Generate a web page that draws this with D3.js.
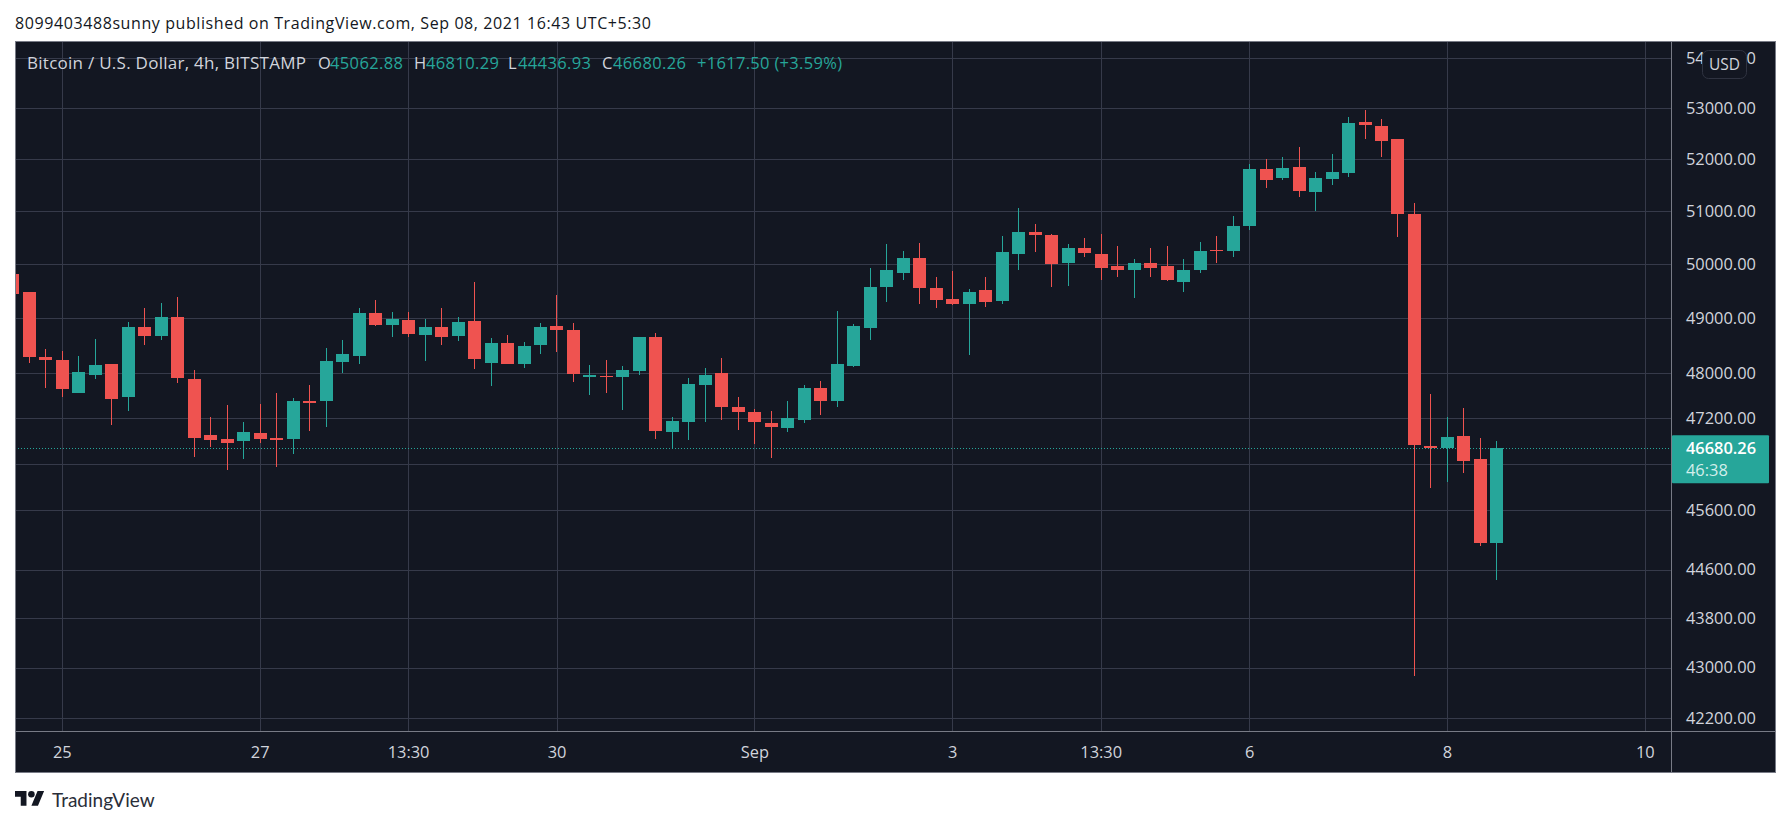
<!DOCTYPE html>
<html>
<head>
<meta charset="utf-8">
<title>BTCUSD</title>
<script src="https://cdn.jsdelivr.net/npm/d3@7/dist/d3.min.js"></script>
<style>
  body { margin: 0; background: #fff; }
  text { font-family: "Open Sans", sans-serif; }
  .axis path { display: none; }
  .axis line { stroke: #363a4a; shape-rendering: crispEdges; }
  .axis text { fill: #d1d4dc; font-size: 16.4px; }
</style>
</head>
<body>
<div id="chart"></div>
<script>
// 4h candles, first one is cut off by the left edge of the pane
const opens = [49820,49487,48299,48245,47654,47973,48172,47583,48842,48679,49024,47902,46911,46842,46807,46946,46859,46842,47512,47512,48208,48317,49098,48879,48969,48698,48842,48679,48951,48190,48552,48172,48516,48861,48788,47938,47956,47938,48045,48661,46963,47140,47796,48009,47406,47317,47122,47034,47175,47743,47512,48136,48824,49580,49839,50118,49561,49357,49265,49524,49320,50194,50610,50553,50024,50308,50194,49969,49894,50024,49969,49672,49894,50270,50251,50723,51814,51641,51853,51371,51622,51737,52731,52653,52398,50949,46720,46685,46894,46494,45062.88];
const highs = [49820,49487,48444,48408,48317,48625,48172,48933,49191,49283,49394,48063,47228,47441,47140,47459,47654,47565,47796,48462,48607,49191,49339,49117,49117,48987,49191,49024,49672,48643,48698,48570,48915,49431,48915,48154,48245,48136,48661,48734,47228,47920,48099,48281,47583,47370,47335,47512,47796,47867,49135,48897,49931,50383,50251,50402,49765,49876,49543,49765,50534,51062,50760,50572,50383,50496,50572,50345,50098,50308,50345,50098,50421,50534,50911,51910,52006,52045,52241,51756,52104,52829,52967,52790,52398,51160,47636,47228,47388,46859,46810.29];
const lows = [49450,48190,47743,47583,47654,47902,47087,47335,48516,48607,47831,46529,46703,46303,46494,46772,46355,46581,46981,47051,48009,48172,48861,48661,48661,48226,48516,48589,48081,47778,48172,48099,48353,48390,47849,47618,47654,47352,47973,46842,46668,46824,47140,47175,46998,46755,46511,46963,47122,47264,47406,48118,48607,49302,49709,49265,49191,49246,48335,49209,49265,49894,50232,49580,49598,50137,49709,49765,49376,49765,49691,49487,49839,50024,50137,50647,51448,51602,51275,51006,51506,51660,52398,52045,50515,42880,45990,46094,46251,45003,44436.93];
const closes = [49450,48299,48245,47725,48027,48154,47547,48842,48679,49024,47920,46859,46824,46772,46963,46842,46824,47512,47477,48226,48353,49098,48879,48987,48716,48842,48661,48933,48263,48552,48172,48498,48842,48788,47991,47973,47938,48063,48661,46981,47158,47814,47973,47406,47317,47140,47051,47211,47743,47512,48172,48861,49580,49894,50118,49561,49339,49265,49487,49302,50232,50610,50553,50006,50308,50213,49931,49894,50024,49931,49709,49894,50251,50251,50723,51814,51602,51833,51390,51641,51756,52712,52673,52359,50949,46737,46685,46876,46459,45060,46680.26];

const priceTicks = [54000,53000,52000,51000,50000,49000,48000,47200,46400,45600,44600,43800,43000,42200];
const hiddenPriceLabel = 46400; // sits under the last price tag
const timeTicks = [3,15,24,33,45,57,66,75,87,99];
const timeLabels = ["25","27","13:30","30","Sep","3","13:30","6","8","10"];

const legendParts = [
    ["O", "45062.88"],
    ["H", "46810.29"],
    ["L", "44436.93"],
    ["C", "46680.26"]
];
const lastChange = "+1617.50 (+3.59%)";
const lastPrice = 46680.26;
const countdown = "46:38";

const upColor = "#26a69a", downColor = "#ef5350", paneColor = "#131722", edgeColor = "#787b86";

const frame = {left: 15, top: 41, right: 1775, bottom: 772, axisX: 1671, axisY: 731};

const svg = d3.select("#chart").append("svg")
    .attr("width", 1791)
    .attr("height", 826)
    .style("display", "block");

svg.append("rect")
    .attr("x", frame.left).attr("y", frame.top)
    .attr("width", frame.right - frame.left).attr("height", frame.bottom - frame.top)
    .attr("fill", paneColor);

svg.append("clipPath").attr("id", "pane").append("rect")
    .attr("x", frame.left).attr("y", frame.top)
    .attr("width", frame.axisX - frame.left).attr("height", frame.axisY - frame.top);

// candle slots, 6 per day. price axis is logarithmic
const x = d3.scaleLinear().domain([0, 99]).range([12.83, 1645.34]);
const y = d3.scaleLog().domain([42200, 54000]).range([718.3, 58.3]);
const fmt = d3.format(".2f");

// grid comes from the axes tick lines
svg.append("g").attr("class", "axis")
    .attr("transform", "translate(" + frame.axisX + ",0)")
    .call(d3.axisRight(y).tickValues(priceTicks).tickSize(0).tickPadding(15).offset(0)
        .tickFormat(d => d === hiddenPriceLabel ? "" : fmt(d)))
    .call(g => g.selectAll(".tick").append("line")
        .attr("x1", frame.left - frame.axisX).attr("x2", 0));

svg.append("g").attr("class", "axis")
    .attr("transform", "translate(0," + frame.axisY + ")")
    .call(d3.axisBottom(x).tickValues(timeTicks).tickSize(0).tickPadding(15).offset(0)
        .tickFormat((d, i) => timeLabels[i]))
    .call(g => g.selectAll(".tick").append("line")
        .attr("y1", frame.top - frame.axisY).attr("y2", 0));

// last price line
svg.append("line")
    .attr("x1", frame.left).attr("x2", frame.axisX)
    .attr("y1", Math.floor(y(lastPrice)) + .5).attr("y2", Math.floor(y(lastPrice)) + .5)
    .attr("stroke", upColor)
    .attr("stroke-dasharray", "1,2");

const candles = svg.append("g").attr("clip-path", "url(#pane)")
    .selectAll("g").data(d3.range(opens.length)).enter().append("g")
    .attr("fill", i => closes[i] >= opens[i] ? upColor : downColor);

candles.append("rect")
    .attr("x", i => Math.floor(x(i)))
    .attr("width", 1)
    .attr("y", i => Math.round(y(highs[i])))
    .attr("height", i => Math.round(y(lows[i])) - Math.round(y(highs[i])));

candles.append("rect")
    .attr("x", i => Math.floor(x(i)) - 6)
    .attr("width", 13)
    .attr("y", i => Math.round(y(Math.max(opens[i], closes[i]))))
    .attr("height", i => Math.max(1, Math.round(y(Math.min(opens[i], closes[i]))) - Math.round(y(Math.max(opens[i], closes[i])))));

// frame and axis edges
svg.append("rect")
    .attr("x", frame.left + .5).attr("y", frame.top + .5)
    .attr("width", frame.right - frame.left).attr("height", frame.bottom - frame.top)
    .attr("fill", "none").attr("stroke", edgeColor);
svg.append("line")
    .attr("x1", frame.axisX + .5).attr("x2", frame.axisX + .5)
    .attr("y1", frame.top).attr("y2", frame.bottom)
    .attr("stroke", edgeColor);
svg.append("line")
    .attr("x1", frame.left).attr("x2", frame.right)
    .attr("y1", frame.axisY + .5).attr("y2", frame.axisY + .5)
    .attr("stroke", edgeColor);

// last price tag on the axis
svg.append("rect")
    .attr("x", frame.axisX + 1).attr("y", y(lastPrice) - 13)
    .attr("width", 97).attr("height", 48).attr("rx", 1)
    .attr("fill", upColor);
svg.append("text")
    .attr("x", 1686).attr("y", y(lastPrice)).attr("dy", ".35em")
    .attr("fill", "#fff").attr("font-size", 16.4).attr("font-weight", 600)
    .text(fmt(lastPrice));
svg.append("text")
    .attr("x", 1686).attr("y", y(lastPrice) + 22).attr("dy", ".35em")
    .attr("fill", "#d3eeeb").attr("font-size", 16.4)
    .text(countdown);

// currency badge
svg.append("rect")
    .attr("x", 1702.5).attr("y", 50.5).attr("width", 44).attr("height", 28).attr("rx", 6)
    .attr("fill", paneColor).attr("stroke", "#2f3341");
svg.append("text")
    .attr("x", 1724.5).attr("y", 64.5).attr("dy", ".35em")
    .attr("text-anchor", "middle")
    .attr("fill", "#d1d4dc").attr("font-size", 15.5)
    .text("USD");

// header lines
svg.append("text")
    .attr("x", 15).attr("y", 23).attr("dy", ".35em")
    .attr("fill", "#131722").attr("font-size", 16)
    .attr("textLength", 636)
    .text("8099403488sunny published on TradingView.com, Sep 08, 2021 16:43 UTC+5:30");

svg.append("text")
    .attr("x", 27).attr("y", 63).attr("dy", ".35em")
    .attr("fill", "#d1d4dc").attr("font-size", 17)
    .attr("textLength", 279)
    .text("Bitcoin / U.S. Dollar, 4h, BITSTAMP");

const legendX = [[318, 330], [414, 426], [508, 518], [602, 613]];
legendParts.forEach((part, i) => {
    svg.append("text")
        .attr("x", legendX[i][0]).attr("y", 63).attr("dy", ".35em")
        .attr("fill", "#d1d4dc").attr("font-size", 16.5)
        .text(part[0]);
    svg.append("text")
        .attr("x", legendX[i][1]).attr("y", 63).attr("dy", ".35em")
        .attr("fill", upColor).attr("font-size", 16.5)
        .attr("textLength", 73)
        .text(part[1]);
});
svg.append("text")
    .attr("x", 697).attr("y", 63).attr("dy", ".35em")
    .attr("fill", upColor).attr("font-size", 16.5)
    .attr("textLength", 145)
    .text(lastChange);

// logo
const logo = svg.append("g")
    .attr("transform", "translate(15,787.7) scale(.82)")
    .attr("fill", "#131722");
logo.append("path").attr("d", "M14 22H7V11H0V4h14v18zM28 22h-8l7.5-18h8L28 22z");
logo.append("circle").attr("cx", 20).attr("cy", 8).attr("r", 4);

svg.append("text")
    .attr("x", 52).attr("y", 800).attr("dy", ".35em")
    .attr("fill", "#2a2e39").attr("font-size", 19)
    .style("font-family", "Lato, sans-serif")
    .text("TradingView");
</script>
</body>
</html>
